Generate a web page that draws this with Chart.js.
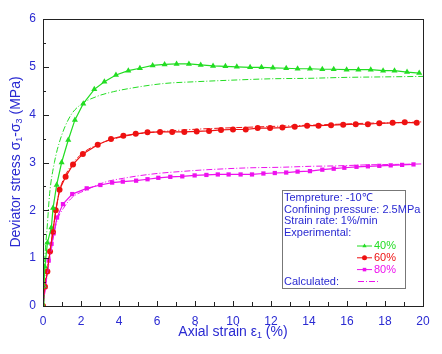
<!DOCTYPE html>
<html>
<head>
<meta charset="utf-8">
<script src="https://cdn.jsdelivr.net/npm/chart.js@4/dist/chart.umd.min.js"></script>
<style>
  html, body { margin: 0; padding: 0; background: #fff; }
</style>
</head>
<body>
<canvas id="c" width="442" height="354"></canvas>
<script>
// experimental data (strain %, deviator stress MPa)
var exp40Strain = [0, 0.05, 0.1, 0.23, 0.44, 0.53, 0.72, 0.98, 1.33, 1.68, 2.12, 2.7, 3.23, 3.84, 4.49, 5.1, 5.77, 6.4, 7.03, 7.68, 8.3, 8.95, 9.6, 10.2, 10.9, 11.5, 12.1, 12.8, 13.4, 14.05, 14.7, 15.3, 15.98, 16.6, 17.25, 17.9, 18.5, 19.16, 19.8];
var exp40Stress = [0, 0.42, 0.82, 1.32, 1.64, 2.05, 2.53, 3.0, 3.47, 3.89, 4.23, 4.53, 4.69, 4.83, 4.92, 4.97, 5.03, 5.05, 5.06, 5.06, 5.04, 5.02, 5.01, 5.0, 4.99, 4.99, 4.98, 4.97, 4.96, 4.96, 4.95, 4.95, 4.94, 4.94, 4.94, 4.92, 4.92, 4.89, 4.87];

var exp60Strain = [0, 0.1, 0.23, 0.37, 0.52, 0.67, 0.87, 1.19, 1.58, 2.1, 2.88, 3.58, 4.23, 4.88, 5.5, 6.16, 6.8, 7.44, 8.09, 8.74, 9.37, 10.0, 10.67, 11.3, 11.95, 12.6, 13.25, 13.9, 14.5, 15.16, 15.8, 16.46, 17.1, 17.7, 18.4, 19.04, 19.67];
var exp60Stress = [0, 0.4, 0.72, 1.14, 1.55, 2.0, 2.43, 2.7, 2.96, 3.18, 3.37, 3.49, 3.56, 3.6, 3.63, 3.64, 3.64, 3.64, 3.65, 3.66, 3.68, 3.69, 3.69, 3.72, 3.72, 3.73, 3.75, 3.77, 3.77, 3.78, 3.79, 3.8, 3.8, 3.82, 3.83, 3.84, 3.83];

var exp80Strain = [0, 0.12, 0.3, 0.45, 0.56, 0.74, 1.05, 1.54, 2.3, 3.02, 3.64, 4.2, 4.9, 5.5, 6.07, 6.7, 7.33, 7.98, 8.6, 9.2, 9.77, 10.4, 11.0, 11.6, 12.2, 12.8, 13.4, 14.05, 14.7, 15.3, 15.86, 16.5, 17.1, 17.7, 18.3, 18.9, 19.5];
var exp80Stress = [0, 0.4, 0.95, 1.3, 1.52, 1.85, 2.13, 2.34, 2.46, 2.53, 2.58, 2.6, 2.62, 2.65, 2.68, 2.7, 2.71, 2.73, 2.74, 2.75, 2.75, 2.75, 2.75, 2.77, 2.78, 2.79, 2.81, 2.82, 2.85, 2.87, 2.89, 2.91, 2.92, 2.93, 2.94, 2.95, 2.96];

// calculated curves
var calc40Strain = [0, 0.05, 0.12, 0.22, 0.35, 0.6, 0.9, 1.42, 1.95, 2.83, 3.7, 4.58, 6.33, 8.1, 9.84, 12, 14, 16, 18, 20];
var calc40Stress = [0, 0.6, 1.15, 1.65, 2.35, 3.0, 3.47, 3.96, 4.2, 4.38, 4.48, 4.55, 4.65, 4.69, 4.72, 4.75, 4.76, 4.78, 4.79, 4.8];

var calc60Strain = [0, 0.1, 0.25, 0.4, 0.55, 0.7, 0.9, 1.2, 1.6, 2.1, 2.9, 3.6, 4.3, 5, 6, 7, 8.26, 9.5, 11, 12.5, 14, 15.5, 17, 18.5, 20];
var calc60Stress = [0, 0.45, 0.85, 1.25, 1.65, 2.05, 2.45, 2.75, 3.0, 3.2, 3.38, 3.48, 3.55, 3.6, 3.64, 3.67, 3.7, 3.72, 3.74, 3.76, 3.78, 3.8, 3.82, 3.83, 3.85];

var calc80Strain = [0, 0.15, 0.3, 0.45, 0.54, 0.72, 1.07, 1.54, 2.3, 3.35, 4.23, 5.0, 6.0, 7.2, 8.26, 9.67, 11, 12.5, 14.05, 15.5, 17, 18.5, 20];
var calc80Stress = [0, 0.45, 0.85, 1.2, 1.42, 1.76, 2.04, 2.27, 2.43, 2.6, 2.67, 2.72, 2.77, 2.81, 2.84, 2.87, 2.89, 2.9, 2.92, 2.93, 2.95, 2.96, 2.97];

var xTicks = [0, 2, 4, 6, 8, 10, 12, 14, 16, 18, 20];
var yTicks = [0, 1, 2, 3, 4, 5, 6];
var infoLines = ['Tempreture: -10\u2103', 'Confining pressure: 2.5MPa', 'Strain rate: 1%/min', 'Experimental:'];
var seriesNames = ['40%', '60%', '80%'];

var BLUE = '#2a2ad2';
var GREEN = '#22dd22';
var RED = '#ee1111';
var MAGENTA = '#ee11ee';
var FONT = "Arial, 'Liberation Sans', sans-serif";

function pts(xs, ys) {
  return xs.map(function (x, i) { return { x: x, y: ys[i] }; });
}

function expSet(label, xs, ys, color, style) {
  return {
    label: label,
    data: pts(xs, ys),
    borderColor: color,
    backgroundColor: color,
    borderWidth: 1.2,
    pointStyle: style,
    pointRadius: style === 'triangle' ? 3.5 : 3,
    pointBorderWidth: 0,
    tension: 0
  };
}

function calcSet(label, xs, ys, color) {
  return {
    label: label,
    data: pts(xs, ys),
    borderColor: color,
    borderWidth: 1,
    borderDash: [6, 2, 1, 2],
    pointRadius: 0,
    cubicInterpolationMode: 'monotone'
  };
}

// rich text with subscripts: parts = [[text, isSub], ...]
function richWidth(ctx, parts, size) {
  var w = 0;
  parts.forEach(function (p) {
    ctx.font = (p[1] ? Math.round(size * 0.65) : size) + 'px ' + FONT;
    w += ctx.measureText(p[0]).width;
  });
  return w;
}
function drawRich(ctx, parts, x, y, size) {
  parts.forEach(function (p) {
    var s = p[1] ? Math.round(size * 0.65) : size;
    ctx.font = s + 'px ' + FONT;
    ctx.fillText(p[0], x, p[1] ? y + size * 0.25 : y);
    x += ctx.measureText(p[0]).width;
  });
}

var decor = {
  id: 'decor',
  afterDatasetsDraw: function (chart) {
    var ctx = chart.ctx, a = chart.chartArea;
    var xs = chart.scales.x, ys = chart.scales.y;
    ctx.save();
    ctx.strokeStyle = '#222';
    ctx.lineWidth = 1;
    ctx.strokeRect(Math.round(a.left) + 0.5, Math.round(a.top) + 0.5, Math.round(a.right - a.left), Math.round(a.bottom - a.top));

    // inward ticks
    ctx.beginPath();
    for (var v = 1; v < 20; v++) {
      var px = Math.round(xs.getPixelForValue(v)) + 0.5;
      ctx.moveTo(px, a.bottom);
      ctx.lineTo(px, a.bottom - (v % 2 === 0 ? 5 : 4));
    }
    for (var k = 1; k < 12; k++) {
      var py = Math.round(ys.getPixelForValue(k / 2)) + 0.5;
      ctx.moveTo(a.left, py);
      ctx.lineTo(a.left + (k % 2 === 0 ? 6 : 3), py);
    }
    ctx.stroke();

    // axis titles
    ctx.fillStyle = BLUE;
    ctx.textBaseline = 'middle';
    var xt = [['Axial strain \u03b5', false], ['1', true], [' (%)', false]];
    var w = richWidth(ctx, xt, 14);
    drawRich(ctx, xt, (a.left + a.right) / 2 - w / 2, 332, 14);

    var yt = [['Deviator stress \u03c3', false], ['1', true], ['-\u03c3', false], ['3', true], [' (MPa)', false]];
    ctx.save();
    ctx.translate(16, 162);
    ctx.rotate(-Math.PI / 2);
    var wy = richWidth(ctx, yt, 14);
    drawRich(ctx, yt, -wy / 2, 0, 14);
    ctx.restore();

    // info / legend box
    var bx = 282, by = 190, bw = 123, bh = 98;
    ctx.fillStyle = '#fff';
    ctx.fillRect(bx, by, bw, bh);
    ctx.strokeStyle = '#777';
    ctx.strokeRect(bx + 0.5, by + 0.5, bw, bh);
    ctx.font = '11px ' + FONT;
    ctx.fillStyle = BLUE;
    ctx.textAlign = 'left';
    infoLines.forEach(function (t, i) {
      ctx.fillText(t, 284, 198 + i * 11.7);
    });
    var colors = [GREEN, RED, MAGENTA];
    var styles = ['triangle', 'circle', 'rect'];
    seriesNames.forEach(function (n, i) {
      var yy = 246 + i * 11.8;
      ctx.strokeStyle = colors[i];
      ctx.beginPath();
      ctx.moveTo(357, yy); ctx.lineTo(372, yy);
      ctx.stroke();
      ctx.fillStyle = colors[i];
      Chart.helpers.drawPoint(ctx, { pointStyle: styles[i], radius: 2.5, borderWidth: 0 }, 364.5, yy);
      ctx.fillText(n, 374, yy);
    });
    ctx.fillStyle = BLUE;
    ctx.fillText('Calculated:', 284, 281.5);
    ctx.strokeStyle = MAGENTA;
    ctx.setLineDash([6, 2, 1, 2]);
    ctx.beginPath();
    ctx.moveTo(358, 281.5); ctx.lineTo(378, 281.5);
    ctx.stroke();
    ctx.restore();
  }
};

new Chart(document.getElementById('c'), {
  type: 'line',
  data: {
    datasets: [
      calcSet('calc 40%', calc40Strain, calc40Stress, GREEN),
      calcSet('calc 60%', calc60Strain, calc60Stress, RED),
      calcSet('calc 80%', calc80Strain, calc80Stress, MAGENTA),
      expSet('40%', exp40Strain, exp40Stress, GREEN, 'triangle'),
      expSet('60%', exp60Strain, exp60Stress, RED, 'circle'),
      expSet('80%', exp80Strain, exp80Stress, MAGENTA, 'rect')
    ]
  },
  options: {
    responsive: false,
    animation: false,
    devicePixelRatio: 1,
    layout: { padding: { left: 0, top: 19, right: 19, bottom: 0 } },
    plugins: { legend: { display: false }, tooltip: { enabled: false } },
    scales: {
      x: {
        type: 'linear', min: 0, max: 20,
        afterFit: function (s) { s.height = 48; },
        afterBuildTicks: function (s) { s.ticks = xTicks.map(function (v) { return { value: v }; }); },
        grid: { display: false, drawTicks: false },
        border: { display: false },
        ticks: { color: BLUE, font: { size: 12, family: FONT }, padding: 8, maxRotation: 0 }
      },
      y: {
        type: 'linear', min: 0, max: 6,
        afterFit: function (s) { s.width = 43; },
        afterBuildTicks: function (s) { s.ticks = yTicks.map(function (v) { return { value: v }; }); },
        grid: { display: false, drawTicks: false },
        border: { display: false },
        ticks: { color: BLUE, font: { size: 12, family: FONT }, padding: 7 }
      }
    }
  },
  plugins: [decor]
});
</script>
</body>
</html>
